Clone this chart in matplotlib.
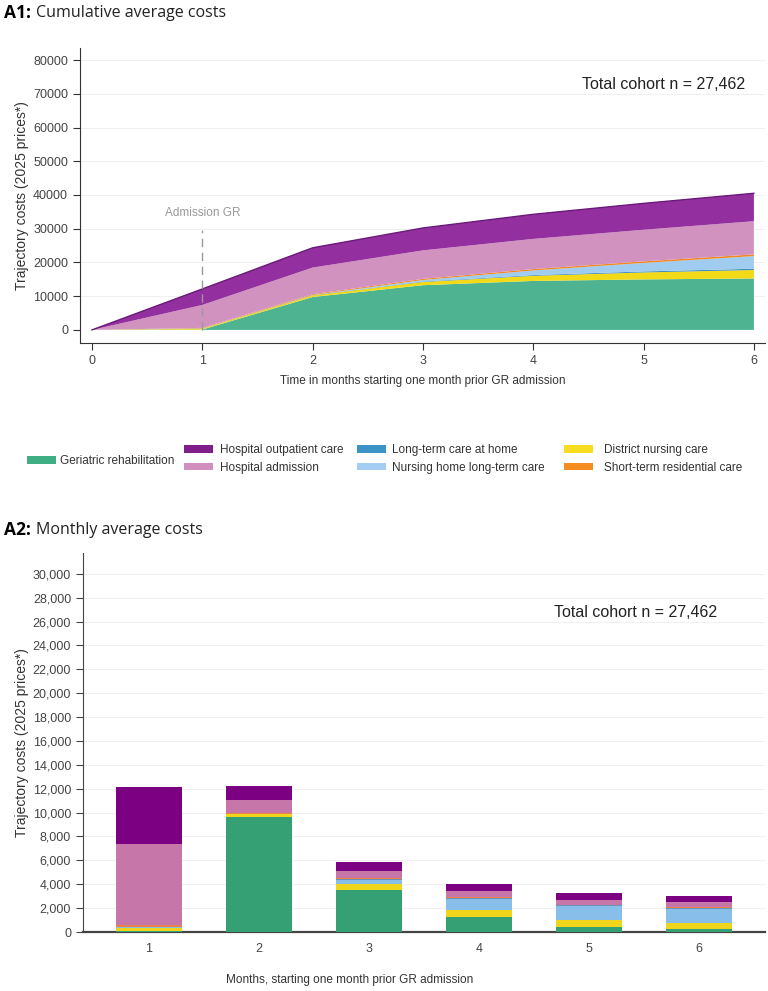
import numpy as np
import matplotlib
matplotlib.use("Agg")
import matplotlib.pyplot as plt
from matplotlib.patches import Patch
from matplotlib.ticker import FuncFormatter

# monthly average costs per care type (months 1..6)
months = [1, 2, 3, 4, 5, 6]
geriatric_rehab = [100, 9650, 3500, 1270, 450, 270]
district_nursing = [250, 200, 500, 560, 550, 460]
nursing_home_ltc = [50, 20, 380, 920, 1150, 1220]
ltc_at_home = [50, 30, 60, 80, 80, 70]
short_term_res = [150, 90, 100, 70, 60, 50]
hospital_admission = [6800, 1090, 560, 500, 420, 470]
hospital_outpatient = [4740, 1120, 780, 650, 530, 450]

cohort_text = "Total cohort n = 27,462"
y_label = "Trajectory costs (2025 prices*)"

labels = {
    "gr": "Geriatric rehabilitation",
    "out": "Hospital outpatient care",
    "adm": "Hospital admission",
    "ltch": "Long-term care at home",
    "nh": "Nursing home long-term care",
    "dn": "District nursing care",
    "st": "Short-term residential care",
}

area_colors = {"gr": "#4DB390", "dn": "#F2DA18", "ltch": "#3F8FC0", "nh": "#A0CCF0",
               "st": "#F08A24", "adm": "#D292BF", "out": "#932F9F"}
bar_colors = {"gr": "#35A073", "dn": "#EFD61C", "ltch": "#6A92B5", "nh": "#88BFEA",
              "st": "#E8844A", "adm": "#C676A9", "out": "#7B0082"}

series = {"gr": geriatric_rehab, "dn": district_nursing, "ltch": ltc_at_home,
          "nh": nursing_home_ltc, "st": short_term_res, "adm": hospital_admission,
          "out": hospital_outpatient}

plt.rcParams["font.family"] = ["Liberation Sans", "DejaVu Sans"]
tick_col = "#444444"
W, H = 768, 991

fig = plt.figure(figsize=(7.68, 9.91), dpi=100)

# ---------- A1: cumulative ----------
ax1 = fig.add_axes([0.104, 0.654, 0.892, 0.298])
x_cum = [0] + months
area_order = ["gr", "dn", "ltch", "nh", "st", "adm", "out"]
cum = [np.concatenate([[0], np.cumsum(series[k])]) for k in area_order]
ax1.stackplot(x_cum, cum, colors=[area_colors[k] for k in area_order], linewidth=0)
ax1.plot(x_cum, np.sum(cum, axis=0), color="#6A1A78", lw=1.0)

ax1.set_xlim(-0.11, 6.1)
ax1.set_ylim(-3850, 83700)
ax1.set_yticks(range(0, 80001, 10000))
ax1.set_xticks(range(0, 7))
for y in range(10000, 80001, 10000):
    ax1.axhline(y, color="#F0F0F0", lw=0.8, zorder=0)
ax1.spines["top"].set_visible(False)
ax1.spines["right"].set_visible(False)
for s in ["left", "bottom"]:
    ax1.spines[s].set_color("#333333")
ax1.tick_params(colors="#333333", labelcolor=tick_col, labelsize=9, length=5)
ax1.set_xlabel("Time in months starting one month prior GR admission", fontsize=8.5,
               color="#333333", labelpad=6)
ax1.set_ylabel(y_label, fontsize=10, color="#333333", labelpad=3)
ax1.plot([1, 1], [0, 29700], color="#999999", lw=1, ls=(0, (6, 4)))
ax1.text(1, 34800, "Admission GR", ha="center", va="center", fontsize=8.5, color="#999999")
ax1.text(0.971, 0.875, cohort_text, transform=ax1.transAxes, ha="right", va="center",
         fontsize=11.5, color="#222222")

# ---------- A2: monthly bars ----------
ax2 = fig.add_axes([0.108, 0.0595, 0.888, 0.3825])
bar_order = ["gr", "dn", "nh", "ltch", "st", "adm", "out"]
bottom = np.zeros(len(months))
for k in bar_order:
    ax2.bar(months, series[k], width=0.6, bottom=bottom, color=bar_colors[k], linewidth=0, zorder=3)
    bottom += np.array(series[k])

ax2.set_xlim(0.4, 6.6)
ax2.set_ylim(0, 31740)
ax2.set_yticks(range(0, 30001, 2000))
ax2.set_xticks(months)
ax2.yaxis.set_major_formatter(FuncFormatter(lambda v, p: f"{int(v):,}"))
for y in range(2000, 30001, 2000):
    ax2.axhline(y, color="#F0F0F0", lw=0.8, zorder=0)
ax2.spines["top"].set_visible(False)
ax2.spines["right"].set_visible(False)
ax2.spines["left"].set_color("#444444")
ax2.spines["bottom"].set_color("#444444")
ax2.spines["bottom"].set_linewidth(1.6)
ax2.tick_params(axis="y", colors="#444444", labelcolor=tick_col, labelsize=9, length=5)
ax2.tick_params(axis="x", length=0, labelcolor=tick_col, labelsize=9, pad=8)
ax2.set_ylabel(y_label, fontsize=10, color="#333333", labelpad=3)
ax2.text(0.811, 0.844, cohort_text, transform=ax2.transAxes, ha="center", va="center",
         fontsize=11.5, color="#222222")
fig.text(350 / W, 1 - 980 / H, "Months, starting one month prior GR admission",
         ha="center", va="center", fontsize=8.5, color="#333333")

# ---------- titles ----------
for ypix, tag, rest in [(13, "A1:", "Cumulative average costs"), (530, "A2:", "Monthly average costs")]:
    t = fig.text(4 / W, 1 - ypix / H, tag, fontsize=12.5, fontweight="bold",
                 family=["Open Sans", "DejaVu Sans"], va="center", ha="left")
    fig.canvas.draw()
    bb = t.get_window_extent()
    fig.text((bb.x1 + 5) / W, 1 - ypix / H, rest, fontsize=11.5,
             family=["Open Sans", "DejaVu Sans"], va="center", ha="left", color="#222222")

# ---------- legend (one legend per column) ----------
leg_colors = {"gr": "#3FAE82", "out": "#7F1D8A", "adm": "#D08FBF", "ltch": "#3D93C8",
              "nh": "#A3CDF2", "dn": "#F8DC20", "st": "#F48C1F"}
columns = [(["gr"], 27, 461, 0.35), (["out", "adm"], 184, 459, 0.6),
           (["ltch", "nh"], 357, 459, 0.5), (["dn", "st"], 564, 459, 0.9)]
for keys, xpix, ypix, pad in columns:
    handles = [Patch(facecolor=leg_colors[k], edgecolor="none", label=labels[k]) for k in keys]
    fig.legend(handles=handles, loc="center left", bbox_to_anchor=(xpix / W, 1 - ypix / H),
               frameon=False, fontsize=8.5, handlelength=2.45, handleheight=0.6,
               handletextpad=pad, labelspacing=0.45, borderpad=0, borderaxespad=0,
               labelcolor="#333333")

fig.savefig("out.png", dpi=100)
